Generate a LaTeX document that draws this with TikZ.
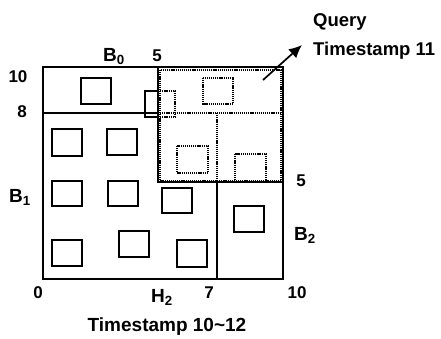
\documentclass[tikz,border=0pt]{standalone}
\usepackage{fontspec}
\setmainfont{Liberation Sans}
\usepackage{tikz}
\usetikzlibrary{arrows.meta}

\begin{document}
\begin{tikzpicture}[
  x=1pt, y=-1pt,
  part/.style={draw=black, line width=1.6pt},
  obj/.style={draw=black, line width=1.3pt},
  qline/.style={draw=black, line width=1.3pt, dash pattern=on 1.2pt off 0.9pt},
  lbl/.style={font=\fontsize{19}{21}\selectfont\bfseries, inner sep=0pt},
  qlbl/.style={font=\fontsize{18.5}{21}\selectfont\bfseries, inner sep=0pt, anchor=base west},
  num/.style={font=\fontsize{17}{19}\selectfont\bfseries, inner sep=0pt, anchor=base},
  arrow/.style={-{Latex[length=13pt, width=12pt]}, line width=1.7pt},
]
\useasboundingbox (0,0) rectangle (441,338);

% partitions
\draw[part] (43,67) rectangle (283,279);
\draw[part] (43,113) -- (158,113);
\draw[part] (158,67) -- (158,182) -- (283,182);
\draw[part] (217,182) -- (217,279);

% query window
\draw[qline] (160,70) rectangle (281,181);
\draw[qline] (160,113) -- (281,113);
\draw[qline] (217,113) -- (217,181);

% objects
\draw[obj] (81,78) rectangle (111,104);
\draw[obj] (52,129) rectangle (82,156);
\draw[obj] (107,129) rectangle (137,155);
\draw[obj] (52,181) rectangle (82,206);
\draw[obj] (108,181) rectangle (138,206);
\draw[obj] (162,188) rectangle (192,213);
\draw[obj] (52,240) rectangle (82,266);
\draw[obj] (119,231) rectangle (149,257);
\draw[obj] (177,240) rectangle (207,267);
\draw[obj] (234,206) rectangle (264,232);
\draw[obj] (158,91) -- (145,91) -- (145,117) -- (158,117);
\draw[qline] (158,91) -- (175,91) -- (175,117) -- (158,117);
\draw[qline] (203,78) rectangle (233,104);
\draw[qline] (177,146) rectangle (208,173);
\draw[qline] (235,154) rectangle (266,182);

% axis values
\node[num] (y10) at (18,82) {10};
\node[num] (y8) at (22,117) {8};
\node[num] (x5top) at (157,61) {5};
\node[num] (y5) at (301,186) {5};
\node[num] (x0) at (38,298) {0};
\node[num] (x7) at (209,298) {7};
\node[num] (x10) at (297,298) {10};

% buckets
\node[lbl, anchor=base] (b0) at (114,61) {B\textsubscript{0}};
\node[lbl, anchor=base] (b1) at (20,202) {B\textsubscript{1}};
\node[lbl, anchor=base] (b2) at (305,240) {B\textsubscript{2}};
\node[lbl, anchor=base] (h2) at (162,302) {H\textsubscript{2}};
\node[lbl, anchor=base] (ts) at (167,331) {Timestamp 10\textasciitilde 12};

% query
\node[qlbl] (query) at (313,26) {Query};
\node[qlbl] (qts) at (313,55) {Timestamp 11};
\coordinate (qtail) at (263,80);
\coordinate (qtip) at (302,45);
\draw[arrow] (qtail) -- (qtip);
\end{tikzpicture}
\end{document}
